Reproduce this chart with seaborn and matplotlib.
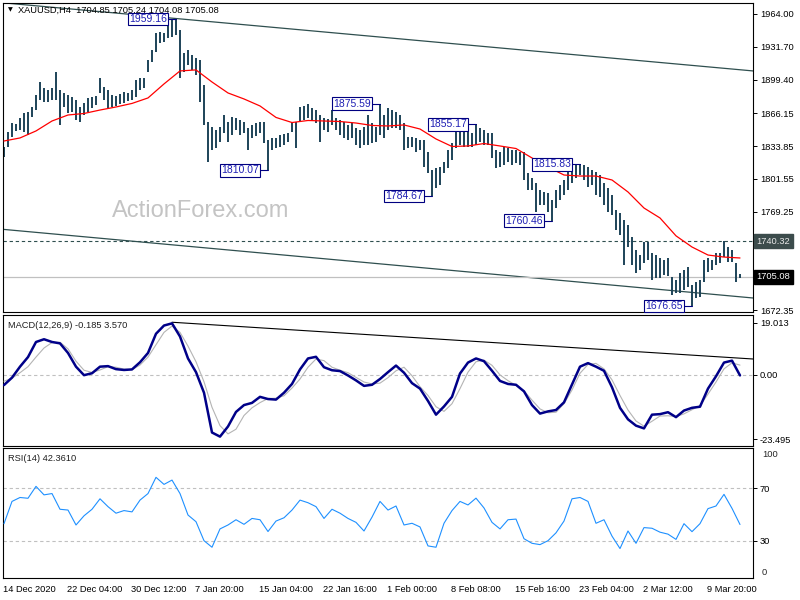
import numpy as np
import matplotlib
matplotlib.use("Agg")
import matplotlib.pyplot as plt
import matplotlib.transforms as mtransforms
import seaborn as sns

# XAUUSD H4 - one entry below covers two H4 candles (high / low)
bar_high = [
    1833.0, 1847.8, 1856.6, 1855.7, 1861.6, 1866.5, 1867.5, 1872.4, 1884.2, 1897.0,
    1891.1, 1889.2, 1891.1, 1906.9, 1889.2, 1886.2, 1884.2, 1882.3, 1879.3, 1872.4,
    1876.3, 1881.3, 1882.3, 1883.2, 1901.0, 1892.1, 1889.2, 1884.2, 1883.2, 1885.2,
    1887.2, 1886.2, 1889.2, 1899.0, 1901.0, 1901.0, 1918.7, 1928.6, 1945.3, 1946.3,
    1945.3, 1955.1, 1958.1, 1959.16, 1948.3, 1925.6, 1928.6, 1923.6, 1920.7, 1918.7,
    1894.1, 1857.6, 1852.7, 1849.8, 1852.7, 1864.5, 1857.6, 1862.6, 1861.6, 1859.6,
    1857.6, 1851.7, 1854.7, 1856.6, 1857.6, 1857.6, 1839.9, 1841.9, 1841.9, 1844.8,
    1845.8, 1846.8, 1857.6, 1857.6, 1872.4, 1873.8, 1874.9, 1871.4, 1869.4, 1864.5,
    1861.6, 1860.6, 1869.4, 1861.6, 1859.6, 1857.6, 1854.7, 1856.6, 1851.7, 1849.8,
    1852.7, 1864.5, 1856.6, 1852.7, 1875.59, 1864.5, 1871.4, 1869.4, 1867.5, 1864.5,
    1856.6, 1842.9, 1842.9, 1841.9, 1839.9, 1839.9, 1828.1, 1810.3, 1812.3, 1813.3,
    1818.2, 1830.0, 1836.9, 1847.8, 1849.8, 1852.7, 1851.7, 1846.8, 1855.17, 1851.7,
    1849.8, 1846.8, 1846.8, 1830.0, 1828.1, 1833.0, 1832.0, 1830.0, 1830.0, 1828.1,
    1828.1, 1807.4, 1802.5, 1797.5, 1790.7, 1788.7, 1787.7, 1780.8, 1790.7, 1795.6,
    1800.5, 1812.3, 1815.3, 1814.8, 1815.83, 1814.9, 1813.3, 1810.3, 1808.4, 1805.4,
    1797.5, 1792.6, 1785.7, 1770.9, 1768.0, 1761.1, 1756.2, 1744.4, 1731.5, 1726.6,
    1739.5, 1739.4, 1728.6, 1726.6, 1723.7, 1721.7, 1723.7, 1704.9, 1702.0, 1708.9,
    1711.9, 1714.8, 1697.1, 1700.0, 1702.0, 1721.7, 1723.7, 1721.7, 1728.6, 1728.6,
    1740.32, 1734.5, 1731.5, 1718.7, 1707.5,
]
bar_low = [
    1823.2, 1833.0, 1842.9, 1848.8, 1849.8, 1847.8, 1844.8, 1862.6, 1869.4, 1879.3,
    1877.3, 1877.3, 1879.3, 1879.3, 1854.7, 1872.4, 1866.5, 1867.5, 1859.6, 1857.6,
    1864.5, 1867.5, 1871.4, 1874.4, 1886.2, 1879.3, 1871.4, 1872.4, 1873.4, 1875.4,
    1876.3, 1878.3, 1879.3, 1882.3, 1889.2, 1891.1, 1906.9, 1916.7, 1926.6, 1935.4,
    1936.4, 1940.4, 1941.4, 1943.3, 1901.0, 1906.9, 1913.8, 1908.9, 1903.9, 1877.3,
    1854.7, 1818.2, 1830.0, 1832.0, 1837.9, 1846.8, 1837.9, 1844.8, 1849.8, 1844.8,
    1846.8, 1830.0, 1841.9, 1843.8, 1846.8, 1836.9, 1810.07, 1830.0, 1832.0, 1833.0,
    1835.0, 1837.9, 1847.8, 1832.0, 1857.6, 1859.6, 1861.6, 1859.6, 1856.6, 1837.9,
    1849.8, 1847.8, 1854.7, 1849.8, 1844.8, 1841.9, 1839.9, 1841.9, 1835.0, 1832.0,
    1835.0, 1835.0, 1836.9, 1837.9, 1844.8, 1841.9, 1849.8, 1851.7, 1851.7, 1849.8,
    1830.0, 1832.0, 1833.0, 1828.1, 1830.0, 1813.3, 1807.4, 1784.67, 1792.6, 1795.6,
    1807.4, 1812.3, 1820.2, 1832.0, 1835.0, 1833.0, 1833.0, 1833.0, 1835.0, 1837.9,
    1835.0, 1835.0, 1822.2, 1812.3, 1813.3, 1815.3, 1818.2, 1815.3, 1817.2, 1815.3,
    1800.5, 1790.7, 1790.7, 1769.0, 1775.9, 1775.9, 1769.0, 1760.46, 1772.9, 1780.8,
    1785.7, 1790.7, 1797.5, 1802.5, 1805.4, 1800.5, 1793.6, 1795.6, 1785.7, 1783.8,
    1775.9, 1769.0, 1766.0, 1751.2, 1746.3, 1716.8, 1734.5, 1716.8, 1708.9, 1711.9,
    1718.7, 1721.7, 1702.0, 1703.9, 1703.9, 1706.9, 1705.9, 1687.2, 1689.2, 1689.2,
    1692.1, 1695.1, 1676.65, 1684.3, 1685.3, 1700.0, 1709.9, 1711.9, 1716.8, 1718.7,
    1724.6, 1719.7, 1719.7, 1700.0, 1703.5,
]

# 55 EMA, one value every 4th entry
ema55 = [
    1838.9, 1841.9, 1848.8, 1858.6, 1864.5, 1866.0, 1869.4, 1872.4, 1875.9, 1881.3,
    1895.1, 1907.9, 1908.9, 1897.0, 1886.2, 1880.3, 1873.4, 1862.1, 1857.1, 1859.1,
    1858.6, 1858.1, 1856.6, 1854.2, 1853.7, 1854.7, 1850.7, 1840.9, 1833.5, 1834.0,
    1836.4, 1834.0, 1831.5, 1822.2, 1813.3, 1805.4, 1804.4, 1804.4, 1800.5, 1788.7,
    1772.9, 1763.1, 1745.5, 1734.5, 1726.6, 1724.6, 1723.7,
]

# MACD(12,26,9) and RSI(14), one value every 2nd entry
macd_main = [
    -3.7, -1.0, 3.0, 6.5, 12.0, 13.0, 12.0, 11.5, 8.0, 3.0,
    -0.1, 0.6, 3.0, 3.2, 2.1, 1.8, 2.0, 4.6, 8.0, 15.0,
    18.0, 18.8, 14.0, 6.0, 1.0, -6.5, -21.0, -22.5, -18.8, -13.5,
    -11.0, -10.2, -8.0, -8.8, -9.0, -6.5, -3.3, 2.0, 6.0, 6.6,
    2.8, 1.7, 1.4, -0.2, -2.0, -4.0, -3.6, -1.5, 1.0, 3.4,
    0.8, -3.0, -5.0, -9.5, -14.5, -11.5, -8.0, 0.5, 4.5, 6.0,
    5.0, 1.5, -2.2, -3.3, -3.6, -6.0, -11.0, -14.1, -13.3, -12.8,
    -10.0, -3.5, 3.0, 4.3, 3.0, 1.5, -4.5, -12.0, -16.2, -18.5,
    -19.5, -14.5, -14.3, -13.6, -15.4, -13.0, -12.0, -11.6, -5.0, -0.5,
    4.5, 5.2, -0.185,
]
macd_signal = [
    -2.3, -1.2, 0.8, 3.0, 6.5, 9.8, 11.8, 11.9, 9.5, 5.0,
    1.7, 0.9, 1.8, 3.0, 2.8, 2.1, 1.9, 3.6, 6.5, 11.0,
    15.5, 17.8, 15.5, 10.5, 4.8, -2.5, -11.8, -18.5, -21.5, -19.8,
    -14.8, -12.0, -10.1, -8.6, -8.5, -7.6, -4.8, -1.5, 2.8, 5.8,
    5.2, 2.8, 1.7, 0.8, -0.9, -2.6, -3.3, -3.0, -1.0, 1.5,
    2.8, -0.3, -4.3, -7.5, -11.6, -13.3, -10.5, -5.0, 1.0, 4.8,
    5.4, 3.5, 0.0, -2.1, -3.8, -5.8, -9.2, -12.4, -13.8, -13.6,
    -10.5, -5.5, 0.6, 3.8, 4.2, 2.2, -1.8, -7.5, -12.8, -16.8,
    -18.7, -16.9, -15.0, -14.9, -15.2, -14.2, -12.7, -11.2, -7.0, -2.6,
    2.2, 4.4, 3.57,
]
rsi14 = [
    43, 60, 63, 62.4, 71.5, 65, 66, 54, 53.4, 42,
    49, 54, 62, 56, 51, 53, 52, 61, 66, 78.4,
    73, 76.3, 66, 49.6, 44.5, 30, 25, 39, 42, 46,
    42.5, 47, 46, 37, 45, 47.5, 53.4, 61, 59, 56,
    47, 54, 51, 47, 44, 37.4, 48, 60, 53.4, 56.5,
    42, 43.3, 40.5, 26, 25, 43.3, 53, 60, 57.3, 62.5,
    55, 44, 39, 46, 46.5, 31.5, 28, 27, 30, 36,
    45, 62, 63, 60, 43.3, 46, 33.5, 24, 37.4, 28,
    40, 39.5, 36.5, 35, 31, 43, 36.9, 43, 54.5, 56.5,
    65.4, 54.7, 42.361,
]

last_ohlc = [1704.85, 1705.24, 1704.08, 1705.08]
resistance = 1740.32
pivot_prices = [1959.16, 1810.07, 1875.59, 1784.67, 1855.17, 1760.46, 1815.83, 1676.65]
pivot_kinds = ["high", "low", "high", "low", "high", "low", "high", "low"]

# trend channel (price at left / right edge) and MACD trend line
channel_upper = [1975.0, 1907.9]
channel_lower = [1751.9, 1684.3]
macd_trend = [19.2, 5.8]

price_ticks = [1964.00, 1931.70, 1899.40, 1866.15, 1833.85, 1801.55, 1769.25, 1736.95, 1672.35]
macd_ticks = [19.013, 0.0, -23.495]
rsi_levels = [70, 30]
date_labels = ["14 Dec 2020", "22 Dec 04:00", "30 Dec 12:00", "7 Jan 20:00",
               "15 Jan 04:00", "22 Jan 16:00", "1 Feb 00:00", "8 Feb 08:00",
               "15 Feb 16:00", "23 Feb 04:00", "2 Mar 12:00", "9 Mar 20:00"]

sns.set_style("white")
plt.rcParams["font.family"] = ["Liberation Sans", "DejaVu Sans"]

BAR_C = "#1d4358"
SLATE = "#2f4f4f"
SMALL = 6.7

fig = plt.figure(figsize=(8, 6), dpi=100)


def px_axes(x0, y0, x1, y1):
    return fig.add_axes([x0 / 800, 1 - y1 / 600, (x1 - x0) / 800, (y1 - y0) / 600])


ax_p = px_axes(3, 3, 753, 312)
ax_m = px_axes(3, 315, 753, 446)
ax_r = px_axes(3, 448, 753, 578)

xlim = (-0.25, 187.25)
x_bar = np.arange(len(bar_high))
x_ema = np.arange(len(ema55)) * 4
x_osc = np.arange(len(rsi14)) * 2
highs = np.array(bar_high)
lows = np.array(bar_low)

for ax in (ax_p, ax_m, ax_r):
    ax.set_xlim(*xlim)
    ax.set_facecolor("white")
    for sp in ax.spines.values():
        sp.set_color("black")
        sp.set_linewidth(0.8)
    ax.yaxis.tick_right()
    ax.tick_params(axis="y", direction="out", length=3, width=0.7, pad=2,
                   labelsize=SMALL, colors="black")

# ---- price panel ----
ax_p.set_ylim(1670.5, 1974.8)
ax_p.text(0.263, 0.327, "ActionForex.com", transform=ax_p.transAxes, ha="center",
          va="center", fontsize=17, color="#c4c4c4", zorder=0.5)
ax_p.plot(xlim, channel_upper, color=SLATE, lw=0.9, zorder=1)
ax_p.plot(xlim, channel_lower, color=SLATE, lw=0.9, zorder=1)
ax_p.axhline(last_ohlc[3], color="#c0c0c0", lw=0.9, zorder=1)
ax_p.axhline(resistance, color=SLATE, lw=0.8, ls=(0, (3, 2.5)), zorder=1)
ax_p.vlines(x_bar, lows, highs, color=BAR_C, lw=1.4, zorder=2)
sns.lineplot(x=x_ema, y=ema55, ax=ax_p, color="red", linewidth=0.9, zorder=3)

for v, kind in zip(pivot_prices, pivot_kinds):
    src = highs if kind == "high" else lows
    k = int(np.argmin(np.abs(src - v)))
    ax_p.plot([k - 2.3, k], [v, v], color="#000080", lw=0.8, zorder=4)
    ax_p.text(k - 2.3, v, f"{v:.2f}", ha="right", va="center", fontsize=7.5,
              color="#1f1fb4", zorder=5,
              bbox=dict(boxstyle="square,pad=0.12", fc="white", ec="#000080", lw=0.8))

ax_p.set_yticks(price_ticks)
ax_p.set_yticklabels([f"{t:.2f}" for t in price_ticks])
ax_p.set_xticks([])
ax_p.set_xlabel("")
ax_p.set_ylabel("")

blend_p = mtransforms.blended_transform_factory(ax_p.transAxes, ax_p.transData)
ax_p.text(1.005, resistance, f"{resistance:.2f}", transform=blend_p, ha="left",
          va="center", fontsize=SMALL, color="#e8e8e8", zorder=10, clip_on=False,
          bbox=dict(boxstyle="square,pad=0.25", fc="#3c4c4c", ec="#3c4c4c"))
ax_p.text(1.005, last_ohlc[3], f"{last_ohlc[3]:.2f}", transform=blend_p, ha="left",
          va="center", fontsize=SMALL, color="white", zorder=10, clip_on=False,
          bbox=dict(boxstyle="square,pad=0.25", fc="black", ec="black"))

ax_p.text(0.0065, 0.978, "\u25bc", transform=ax_p.transAxes, fontsize=4.5,
          family="DejaVu Sans", va="center", ha="left", color="black")
ax_p.text(0.02, 0.977, "XAUUSD,H4  " + " ".join(f"{v:.2f}" for v in last_ohlc),
          transform=ax_p.transAxes, fontsize=SMALL, va="center", ha="left", color="black")

# ---- MACD panel ----
ax_m.set_ylim(-25.92, 21.84)
ax_m.axhline(0, color="#c0c0c0", lw=0.8, ls=(0, (3, 2.5)), zorder=1)
k_top = x_osc[int(np.argmax(macd_main))]
ax_m.plot([k_top, xlim[1]], macd_trend, color="black", lw=0.8, zorder=2)
sns.lineplot(x=x_osc, y=macd_signal, ax=ax_m, color="#b4b4b4", linewidth=0.8, zorder=3)
sns.lineplot(x=x_osc, y=macd_main, ax=ax_m, color="#000088", linewidth=1.8, zorder=4)
ax_m.set_yticks(macd_ticks)
ax_m.set_yticklabels(["19.013", "0.00", "-23.495"])
ax_m.set_xticks([])
ax_m.set_xlabel("")
ax_m.set_ylabel("")
ax_m.text(0.006, 0.92, f"MACD(12,26,9) {macd_main[-1]:.3f} {macd_signal[-1]:.3f}",
          transform=ax_m.transAxes, fontsize=SMALL, va="center", ha="left", color="#202020")

# ---- RSI panel ----
ax_r.set_ylim(1.5, 100.8)
for lv in rsi_levels:
    ax_r.axhline(lv, color="#c0c0c0", lw=0.8, ls=(0, (3, 2.5)), zorder=1)
sns.lineplot(x=x_osc, y=rsi14, ax=ax_r, color="#1e90ff", linewidth=0.8, zorder=3)
ax_r.set_yticks(rsi_levels)
ax_r.set_yticklabels([str(v) for v in rsi_levels])
ax_r.text(1.012, 0.985, "100", transform=ax_r.transAxes, fontsize=SMALL, va="top",
          ha="left", clip_on=False)
ax_r.text(1.012, 0.01, "0", transform=ax_r.transAxes, fontsize=SMALL, va="bottom",
          ha="left", clip_on=False)
ax_r.set_xlabel("")
ax_r.set_ylabel("")
ax_r.text(0.006, 0.92, f"RSI(14) {rsi14[-1]:.4f}", transform=ax_r.transAxes,
          fontsize=SMALL, va="center", ha="left", color="#202020")

date_ticks = np.arange(len(date_labels)) * 16 - 0.25
ax_r.set_xticks(date_ticks)
ax_r.set_xticklabels(date_labels, ha="left")
ax_r.tick_params(axis="x", direction="out", length=3, width=0.7, pad=2,
                 labelsize=SMALL, colors="black")

fig.savefig("out.png", dpi=100)
